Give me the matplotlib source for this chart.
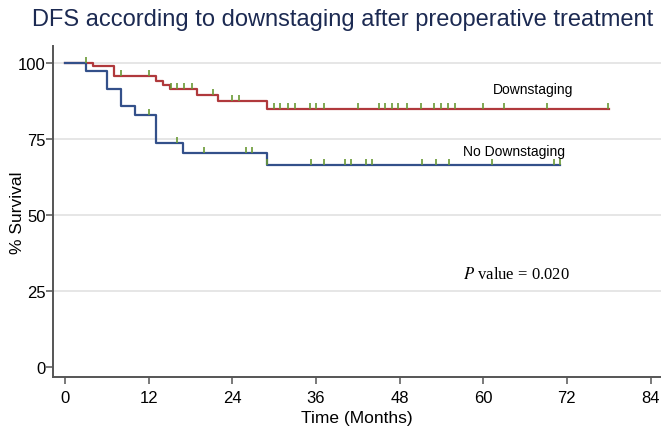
import numpy as np
import matplotlib
matplotlib.use("Agg")
import matplotlib.pyplot as plt

plt.rcParams['font.family'] = ['Liberation Sans', 'DejaVu Sans']

# Kaplan-Meier steps (time in months, % survival)
ds_times = [0, 4, 7, 13, 14, 15, 19, 22, 29, 78]
ds_surv = [100, 98.9, 95.6, 94.2, 92.8, 91.5, 89.5, 87.4, 84.8, 84.8]
ds_cens = [3.0, 8.0, 12.0, 15.2, 16.1, 17.1, 18.2, 21.2, 24.0, 25.0, 30.0, 30.9,
           32.0, 33.0, 35.1, 36.0, 37.1, 42.0, 45.0, 45.9, 46.9, 47.8, 49.0,
           51.0, 53.0, 54.0, 55.0, 56.0, 60.0, 63.0, 69.1, 77.9]

nd_times = [0, 3, 6, 8, 10, 13, 17, 29, 71]
nd_surv = [100, 97.3, 91.5, 85.8, 83.0, 73.6, 70.4, 66.5, 66.5]
nd_cens = [12.1, 16.1, 19.9, 25.9, 26.8, 29.0, 35.3, 37.2, 40.2, 41.1, 43.2,
           44.1, 51.2, 53.2, 55.1, 61.2, 70.2, 71.0]

xticks = [0, 12, 24, 36, 48, 60, 72, 84]
yticks = [0, 25, 50, 75, 100]

red = '#b0393c'
blue = '#33508a'
green = '#6a9a35'
axcol = '#555555'


def level_at(times, surv, t):
    i = np.searchsorted(times, t, side='right') - 1
    return np.array(surv)[i]


fig = plt.figure(figsize=(6.61, 4.27), dpi=100)
ax = fig.add_axes([0.0806, 0.114, 0.9194, 0.7766])

for y in yticks[1:]:
    ax.axhline(y, color='#e4e4e4', lw=1.3, zorder=0)

ax.step(ds_times, ds_surv, where='post', color=red, lw=1.6, zorder=2)
ax.step(nd_times, nd_surv, where='post', color=blue, lw=1.6, zorder=2)

# censoring marks
for times, surv, cens in [(ds_times, ds_surv, ds_cens), (nd_times, nd_surv, nd_cens)]:
    lv = level_at(times, surv, np.array(cens))
    ax.vlines(cens, lv, lv + 2.0, color=green, lw=1.2, zorder=3)

ax.text(61.4, 91.6, 'Downstaging', fontsize=10, va='center', ha='left')
ax.text(57.1, 71.2, 'No Downstaging', fontsize=10, va='center', ha='left')
ax.text(57.1, 29.3, r'$P$ value = 0.020', fontsize=12, va='baseline', ha='left',
        family='Liberation Serif', math_fontfamily='stix')

ax.set_xlim(-1.68, 85.5)
ax.set_ylim(-3.29, 105.7)
ax.set_xticks(xticks)
ax.set_yticks(yticks)
ax.tick_params(labelsize=12, length=5, width=1.1, color=axcol)
ax.tick_params(axis='x', pad=4)
ax.tick_params(axis='y', pad=0.5)
for s in ['top', 'right']:
    ax.spines[s].set_visible(False)
for s in ['left', 'bottom']:
    ax.spines[s].set_color(axcol)
    ax.spines[s].set_linewidth(1.4)

ax.set_xlabel('Time (Months)', fontsize=12.5, labelpad=4)
ax.set_ylabel('% Survival', fontsize=12.5)
ax.yaxis.set_label_coords(-0.047, 0.50)

fig.text(0.519, 0.953, 'DFS according to downstaging after preoperative treatment',
         fontsize=17, color='#1c2a52', ha='center', va='center')

fig.savefig('out.png', dpi=100)
